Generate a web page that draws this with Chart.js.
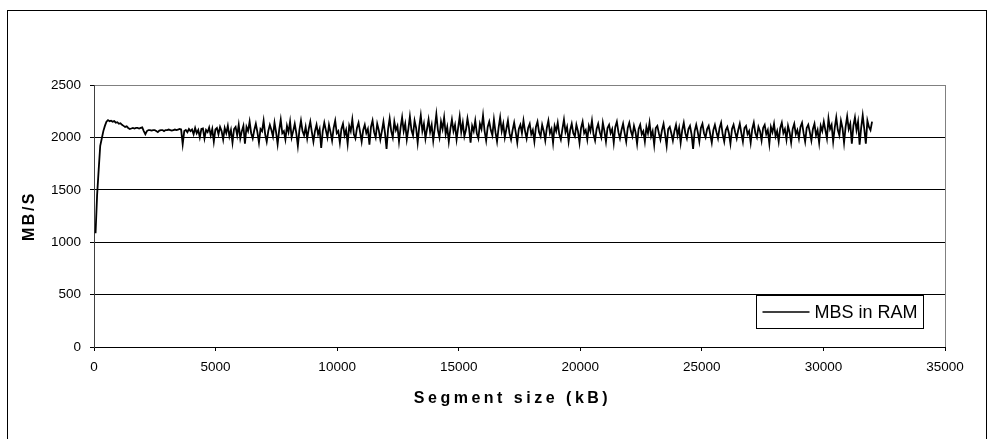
<!DOCTYPE html>
<html>
<head>
<meta charset="utf-8">
<title>MBS in RAM</title>
<script src="https://cdn.jsdelivr.net/npm/chart.js@4.4.1/dist/chart.umd.min.js"></script>
<style>
  html, body { margin: 0; padding: 0; background: #fff; }
  #wrap { width: 994px; height: 439px; }
</style>
</head>
<body>
<div id="wrap"><canvas id="chart" width="994" height="439"></canvas></div>
<script>
// Measured throughput while copying segments held in RAM.
const seriesLabel = 'MBS in RAM';
const firstSegmentKB = 64;   // smallest segment tested
const segmentStepKB = 64;    // increment between tested segment sizes

// Warm-up: 64 kB .. 3776 kB
const rampMBs = [
  1085,1450,1690,1920,1990,2060,2110,2150,2165,2155,
  2160,2150,2155,2140,2145,2130,2135,2120,2110,2100,
  2105,2090,2080,2085,2090,2085,2090,2090,2085,2090,
  2095,2060,2030,2060,2070,2070,2065,2070,2070,2060,
  2050,2065,2070,2070,2060,2070,2070,2075,2070,2065,
  2070,2075,2070,2075,2080,2075,1935,2060,2070
];
// 3840 kB .. 6272 kB
const settleMBs = [
  2050,2080,2060,2075,2030,2090,2040,2070,2000,2080,
  2085,1990,2070,2050,2095,2020,2080,1960,2075,2090,
  2030,2100,2060,1980,2090,2040,2110,2010,2070,1950,
  2080,2100,2020,2120,1990,2060,2110,1940,2100
];
// 6336 kB .. 32000 kB
const steadyMBs = [
  2060,2150,2040,1990,2070,2130,2050,1950,2080,2060,
  2160,2030,1960,2060,2120,2070,2010,2140,2050,1935,
  2070,2170,2040,2060,1980,2110,2050,2150,2000,2060,
  2130,2040,1920,2070,2160,2060,2020,2100,1990,2080,
  2150,2050,1960,2060,2120,2030,2080,1900,2060,2140,
  2070,2000,2120,2050,1970,2090,2160,2040,2060,1950,
  2080,2130,2020,2070,1940,2110,2060,2170,2030,1990,
  2090,2140,2050,1960,2070,2120,2040,2080,1930,2100,
  2160,2050,2000,2130,2070,1980,2060,2150,2040,1890,
  2080,2180,2060,2000,2150,2070,2110,1960,2090,2190,
  2060,2130,1980,2080,2200,2070,2020,2160,2090,1950,
  2100,2210,2060,2130,1990,2080,2170,2050,2120,1970,
  2090,2220,2070,2000,2150,2080,2190,2030,2100,1960,
  2080,2170,2060,2120,1980,2090,2200,2050,2140,2010,
  2070,2180,2090,1950,2110,2060,2160,2040,1990,2130,
  2080,2210,2060,1970,2100,2150,2070,2020,2170,2050,
  1960,2090,2190,2060,2130,2000,2080,2160,2040,1980,
  2070,2140,2050,1950,2080,2120,2040,2160,2060,1990,
  2090,2130,2030,2070,1960,2100,2150,2050,2010,2120,
  2060,1970,2090,2160,2040,2080,1950,2110,2060,2140,
  2030,1980,2080,2170,2050,2100,1960,2070,2130,2040,
  2010,2120,2060,1950,2090,2150,2040,2070,1980,2110,
  2060,2160,2030,1970,2080,2130,2050,2000,2140,2060,
  1960,2090,2120,2040,2080,1950,2100,2150,2050,1990,
  2070,2130,2040,1960,2090,2140,2060,2010,2110,2050,
  1940,2080,2120,2030,2060,1960,2100,2040,2140,2010,
  2060,1930,2090,2110,2040,1980,2070,2130,2030,1920,
  2080,2100,2040,1970,2060,2120,2020,2090,1950,2070,
  2140,2040,1990,2080,2110,2030,1890,2060,2120,2050,
  1960,2090,2130,2040,2000,2080,2110,2030,1950,2070,
  2120,2050,1990,2090,2140,2030,1960,2070,2100,2040,
  1940,2080,2120,2050,1990,2070,2130,2040,1960,2090,
  2110,2030,2060,1950,2080,2140,2040,2000,2100,2060,
  1970,2090,2120,2030,2070,1940,2100,2050,2130,2010,
  2060,1960,2090,2140,2040,2080,1980,2110,2050,1950,
  2080,2130,2030,2070,1990,2100,2140,2040,1960,2090,
  2120,2050,1970,2080,2130,2020,2070,1950,2110,2060,
  2150,2070,1990,2180,2080,2120,1960,2090,2190,2070,
  2020,2160,2090,1950,2100,2200,2080,2130,1940,2110,
  2190,2070,2150,1930,2090,2210,2080,1940,2160,2100,
  2070,2150
];

const xTicks = { min: 0, max: 35000, step: 5000 };
const yTicks = { min: 0, max: 2500, step: 500 };

const throughputMBs = rampMBs.concat(settleMBs, steadyMBs);
const points = throughputMBs.map((v, i) => ({ x: firstSegmentKB + i * segmentStepKB, y: v }));

const FONT = "'Liberation Sans', Arial, sans-serif";

// Axis titles are set with wide tracking; the bottom one sits a little left of centre.
const titleTracking = { x: '3.5px', y: '2.5px' };
const titleShiftX = -7;
const baseDrawTitle = Chart.Scale.prototype.drawTitle;
Chart.Scale.prototype.drawTitle = function (...args) {
  const c = this.ctx;
  c.save();
  c.letterSpacing = titleTracking[this.axis] || '0px';
  if (this.isHorizontal()) c.translate(titleShiftX, 0);
  baseDrawTitle.apply(this, args);
  c.restore();
};

// White page with the thin outer frame round the whole chart.
const framePlugin = {
  id: 'frame',
  beforeDraw(chart) {
    const c = chart.ctx;
    c.save();
    c.fillStyle = '#fff';
    c.fillRect(0, 0, chart.width, chart.height);
    c.strokeStyle = '#000';
    c.lineWidth = 1;
    c.strokeRect(7.5, 10.5, 979, 440);
    c.restore();
  }
};

// Boxed legend sitting in the lower right of the plot area.
const boxLegendPlugin = {
  id: 'boxLegend',
  afterDraw(chart) {
    const c = chart.ctx;
    const a = chart.chartArea;
    const w = 167, h = 33;
    const x = Math.round(a.right - 22 - w) + 0.5;
    const y = Math.round(a.bottom - 19 - h) + 0.5;
    const ds = chart.data.datasets[0];
    c.save();
    c.fillStyle = '#fff';
    c.fillRect(x, y, w, h);
    c.strokeStyle = '#000';
    c.lineWidth = 1;
    c.strokeRect(x, y, w, h);
    const my = y + h / 2;
    c.strokeStyle = ds.borderColor;
    c.lineWidth = 1.5;
    c.beginPath();
    c.moveTo(x + 6, my);
    c.lineTo(x + 53, my);
    c.stroke();
    c.fillStyle = '#000';
    c.font = '18px ' + FONT;
    c.textBaseline = 'middle';
    c.textAlign = 'left';
    c.fillText(ds.label, x + 58, my + 1);
    c.restore();
  }
};

new Chart(document.getElementById('chart'), {
  type: 'line',
  data: {
    datasets: [{
      label: seriesLabel,
      data: points,
      borderColor: '#000',
      borderWidth: 1.8,
      pointRadius: 0,
      tension: 0,
      fill: false
    }]
  },
  options: {
    responsive: false,
    animation: false,
    devicePixelRatio: 1,
    layout: { padding: { top: 85, left: 7, right: 49, bottom: 0 } },
    plugins: { legend: { display: false }, tooltip: { enabled: false } },
    scales: {
      x: {
        type: 'linear',
        min: xTicks.min,
        max: xTicks.max,
        afterFit(s) { s.height = 92; },
        ticks: {
          stepSize: xTicks.step,
          color: '#000',
          padding: 8,
          maxRotation: 0,
          font: { family: FONT, size: 13.5 },
          callback: v => String(v)
        },
        grid: {
          color: ctx => (ctx.tick && ctx.tick.value === xTicks.max) ? '#808080' : 'rgba(0,0,0,0)',
          tickColor: '#000',
          tickLength: 4
        },
        border: { color: '#000', width: 1 },
        title: {
          display: true,
          text: 'Segment size (kB)',
          color: '#000',
          font: { family: FONT, size: 16, weight: 'bold' },
          padding: { top: 0, bottom: 31 }
        }
      },
      y: {
        min: yTicks.min,
        max: yTicks.max,
        afterFit(s) { s.width = 87; },
        ticks: {
          stepSize: yTicks.step,
          color: '#000',
          padding: 9,
          font: { family: FONT, size: 13.5 },
          callback: v => String(v)
        },
        grid: {
          color: ctx => (ctx.tick && ctx.tick.value === yTicks.max) ? '#808080' : '#000',
          tickColor: '#000',
          tickLength: 4
        },
        border: { color: '#404040', width: 1 },
        title: {
          display: true,
          text: 'MB/S',
          color: '#000',
          font: { family: FONT, size: 16, weight: 'bold' },
          padding: { top: 13, bottom: 0 }
        }
      }
    }
  },
  plugins: [framePlugin, boxLegendPlugin]
});
</script>
</body>
</html>
